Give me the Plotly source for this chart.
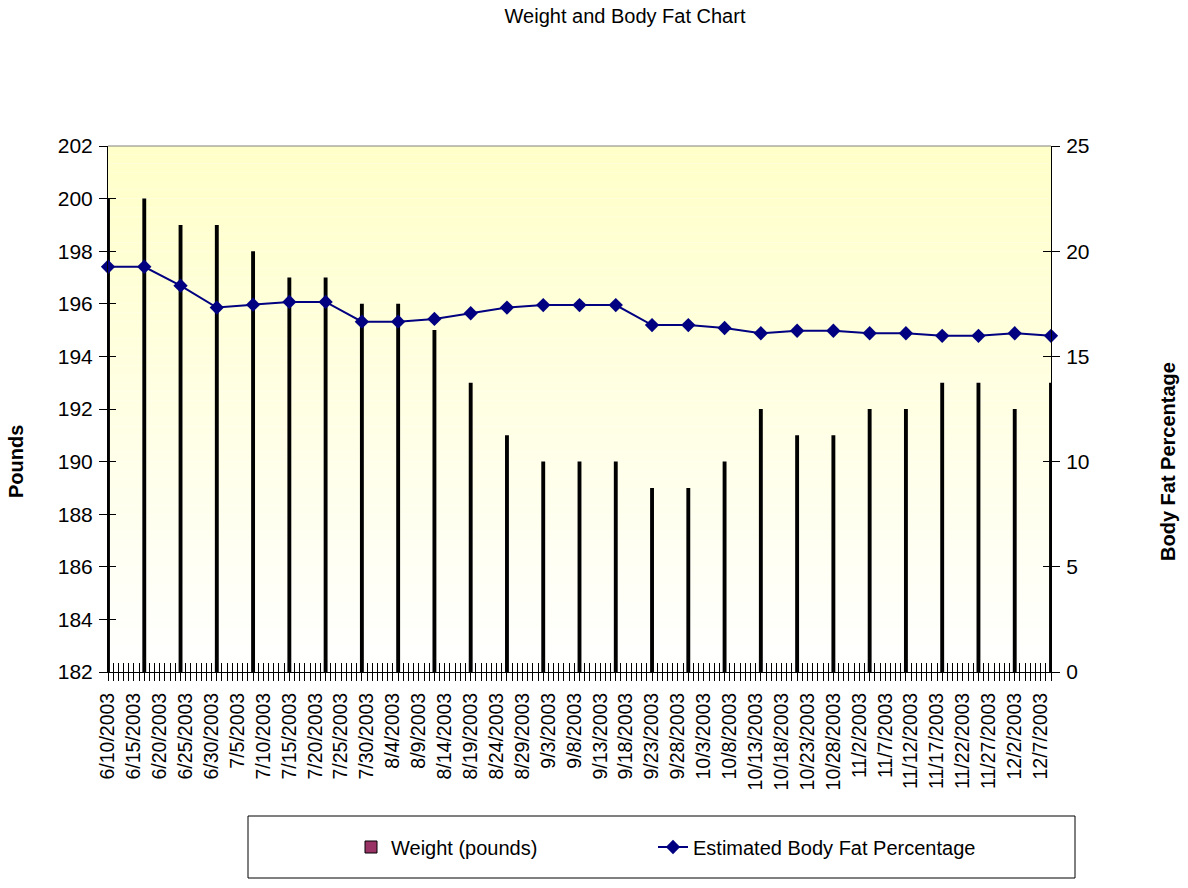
import plotly.graph_objects as go

dates = ["2003-06-10", "2003-06-17", "2003-06-24", "2003-07-01", "2003-07-08", "2003-07-15",
         "2003-07-22", "2003-07-29", "2003-08-05", "2003-08-12", "2003-08-19", "2003-08-26",
         "2003-09-02", "2003-09-09", "2003-09-16", "2003-09-23", "2003-09-30", "2003-10-07",
         "2003-10-14", "2003-10-21", "2003-10-28", "2003-11-04", "2003-11-11", "2003-11-18",
         "2003-11-25", "2003-12-02", "2003-12-09"]
weight = [200, 200, 199, 199, 198, 197, 197, 196, 196, 195, 193, 191, 190, 190, 190, 189, 189,
          190, 192, 191, 191, 192, 192, 193, 193, 192, 193]
body_fat = [19.26, 19.26, 18.36, 17.32, 17.46, 17.59, 17.59, 16.65, 16.65, 16.78, 17.05, 17.32,
            17.44, 17.44, 17.44, 16.49, 16.49, 16.35, 16.10, 16.22, 16.22, 16.10, 16.10, 15.98,
            15.98, 16.10, 15.98]

x_range = ["2003-06-10", "2003-12-09"]
DAY = 86400000
FONT = "Arial, Liberation Sans, sans-serif"

fig = go.Figure()
# bars (thin, so they render black as in the original)
fig.add_trace(go.Bar(
    x=dates, y=weight, name="Weight (pounds)", showlegend=False, legendgroup="w",
    width=0.75 * DAY,
    marker=dict(color="black", line=dict(width=0)),
    xaxis="x", yaxis="y",
))
# legend entry for the bars (the series' fill colour)
fig.add_trace(go.Bar(
    x=[None], y=[None], name="Weight (pounds)", legendgroup="w", legend="legend",
    marker=dict(color="#993366", line=dict(color="black", width=1)),
    xaxis="x", yaxis="y",
))
fig.add_trace(go.Scatter(
    x=dates, y=body_fat, name="Estimated Body Fat Percentage",
    mode="lines+markers", legend="legend2",
    line=dict(color="#000080", width=2),
    marker=dict(symbol="diamond", size=11, color="#000080"),
    xaxis="x", yaxis="y2", cliponaxis=False,
))
# helper traces so the tick-only overlay axes get drawn
fig.add_trace(go.Scatter(x=[None], y=[None], xaxis="x3", yaxis="y3", showlegend=False,
                         hoverinfo="skip"))
fig.add_trace(go.Scatter(x=[None], y=[None], xaxis="x3", yaxis="y4", showlegend=False,
                         hoverinfo="skip"))

# gradient background of the plot area
shapes = []
N = 60
for i in range(N):
    frac = i / N  # 0 at bottom
    b = int(round(255 - (255 - 200) * frac))
    shapes.append(dict(type="rect", xref="x domain", yref="y domain",
                       x0=0, x1=1, y0=i / N, y1=(i + 1) / N,
                       fillcolor=f"rgb(255,255,{b})", line=dict(width=0), layer="below"))
# top border line
shapes.append(dict(type="line", xref="x domain", yref="y domain", x0=0, x1=1, y0=1, y1=1,
                   line=dict(color="#808080", width=1)))
# legend box
shapes.append(dict(type="rect", xref="paper", yref="paper",
                   x0=(248 - 108) / 943, x1=(1075 - 108) / 943,
                   y0=(672 - 878) / 526, y1=(672 - 816) / 526,
                   line=dict(color="black", width=1), fillcolor="rgba(0,0,0,0)"))

legend_common = dict(orientation="h", yanchor="middle", y=(672 - 847) / 526,
                     font=dict(size=20, family=FONT), bgcolor="rgba(0,0,0,0)", borderwidth=0,
                     xanchor="left")

fig.update_layout(
    width=1188, height=888,
    margin=dict(l=108, r=137, t=146, b=216),
    paper_bgcolor="white", plot_bgcolor="rgba(0,0,0,0)",
    font=dict(family=FONT, color="black"),
    showlegend=True,
    title=dict(text="Weight and Body Fat Chart", xref="container", x=625 / 1188,
               xanchor="center", y=1 - 16 / 888, yanchor="middle",
               font=dict(size=20, family=FONT, color="black")),
    legend=dict(x=(351 - 108) / 943, **legend_common),
    legend2=dict(x=(653 - 108) / 943, **legend_common),
    xaxis=dict(type="date", range=x_range, tick0="2003-06-10", dtick=5 * DAY,
               tickformat="%-m/%-d/%Y", tickangle=-90, ticks="outside", ticklen=8,
               tickcolor="black", tickwidth=1, showline=True, linecolor="black", linewidth=1,
               showgrid=False, zeroline=False, tickfont=dict(size=19.5, family=FONT),
               ticklabelstandoff=4,
               minor=dict(dtick=DAY, tick0="2003-06-10", ticks="outside", ticklen=8,
                          tickcolor="black", tickwidth=1, showgrid=False),
               anchor="y"),
    xaxis3=dict(type="date", range=x_range, overlaying="x", anchor="y", tick0="2003-06-10",
                dtick=DAY, ticks="inside", ticklen=9, tickcolor="black", tickwidth=1,
                showticklabels=False, showgrid=False, zeroline=False, showline=False),
    yaxis=dict(range=[182, 202], dtick=2, ticks="outside", ticklen=8, tickcolor="black",
               showline=True, linecolor="black", linewidth=1, showgrid=False, zeroline=False,
               tickfont=dict(size=21, family=FONT), ticklabelstandoff=2),
    yaxis2=dict(range=[0, 25], dtick=5, overlaying="y", side="right", anchor="x",
                ticks="outside", ticklen=8, tickcolor="black",
                showline=True, linecolor="black", linewidth=1, showgrid=False, zeroline=False,
                tickfont=dict(size=21, family=FONT), ticklabelstandoff=2),
    yaxis3=dict(range=[182, 202], dtick=2, overlaying="y", side="left", anchor="x",
                ticks="inside", ticklen=8, tickcolor="black", showticklabels=False,
                showgrid=False, zeroline=False, showline=False),
    yaxis4=dict(range=[0, 25], dtick=5, overlaying="y", side="right", anchor="x",
                ticks="inside", ticklen=8, tickcolor="black", showticklabels=False,
                showgrid=False, zeroline=False, showline=False),
    shapes=shapes,
    annotations=[
        dict(text="<b>Pounds</b>", xref="paper", yref="paper", x=(16 - 108) / 943,
             y=(672 - 462) / 526, textangle=-90, showarrow=False, xanchor="center",
             yanchor="middle", font=dict(size=20, family=FONT)),
        dict(text="<b>Body Fat Percentage</b>", xref="paper", yref="paper",
             x=(1168 - 108) / 943, y=(672 - 462) / 526, textangle=-90, showarrow=False,
             xanchor="center", yanchor="middle", font=dict(size=20, family=FONT)),
    ],
)

fig.write_html("out.html")
